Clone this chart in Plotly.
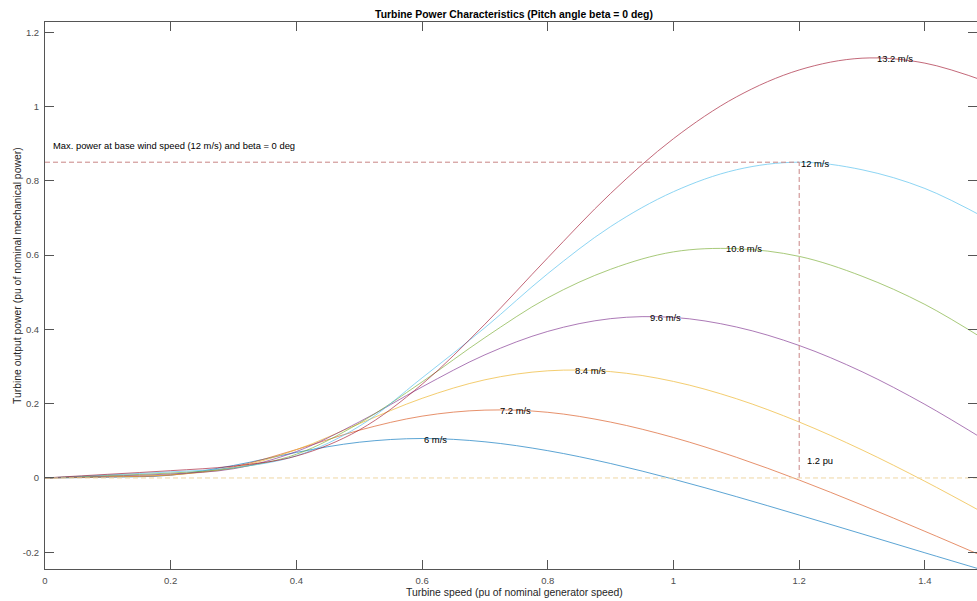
import plotly.graph_objects as go

# ---- data ----
speed = [0.0, 0.1, 0.2, 0.3, 0.4, 0.5, 0.6, 0.7, 0.8, 0.9, 1.0, 1.1, 1.2, 1.3, 1.4, 1.5]

p_6_0 = [0, 0.0021, 0.0075, 0.0337, 0.0688, 0.0963, 0.1063, 0.0974, 0.0735, 0.0389, -0.0033, -0.0502, -0.0998, -0.1505, -0.2014, -0.2517]
p_7_2 = [0, 0.0029, 0.0079, 0.0300, 0.0766, 0.1285, 0.1665, 0.1827, 0.1768, 0.1504, 0.1089, 0.0558, -0.0056, -0.0729, -0.1436, -0.2161]
p_8_4 = [0, 0.0040, 0.0087, 0.0270, 0.0761, 0.1461, 0.2144, 0.2643, 0.2885, 0.2863, 0.2599, 0.2134, 0.1506, 0.0755, -0.0089, -0.1000]
p_9_6 = [0, 0.0052, 0.0110, 0.0249, 0.0712, 0.1509, 0.2451, 0.3316, 0.3946, 0.4289, 0.4323, 0.4065, 0.3566, 0.2860, 0.1981, 0.0973]
p_10_8 = [0, 0.0066, 0.0133, 0.0265, 0.0639, 0.1474, 0.2586, 0.3779, 0.4850, 0.5618, 0.6087, 0.6172, 0.5965, 0.5431, 0.4671, 0.3674]
p_12_0 = [0, 0.0082, 0.0164, 0.0276, 0.0597, 0.1391, 0.2695, 0.4046, 0.5501, 0.6768, 0.7706, 0.8296, 0.8500, 0.8297, 0.7793, 0.6965]
p_13_2 = [0, 0.0099, 0.0197, 0.0319, 0.0591, 0.1291, 0.2524, 0.4141, 0.5928, 0.7660, 0.9134, 1.0257, 1.0983, 1.1300, 1.1167, 1.0655]

wind_labels = ["6 m/s", "7.2 m/s", "8.4 m/s", "9.6 m/s", "10.8 m/s", "12 m/s", "13.2 m/s"]
peak_speed = [0.6, 0.72, 0.84, 0.96, 1.08, 1.2, 1.32]
peak_power = [0.106, 0.184, 0.292, 0.435, 0.62, 0.85, 1.131]

base_speed = 1.2
base_power = 0.85
zero_line_x = [0.0, 1.5]

x_tickvals = [0, 0.2, 0.4, 0.6, 0.8, 1.0, 1.2, 1.4]
x_ticktext = ["0", "0.2", "0.4", "0.6", "0.8", "1", "1.2", "1.4"]
y_tickvals = [-0.2, 0, 0.2, 0.4, 0.6, 0.8, 1.0, 1.2]
y_ticktext = ["-0.2", "0", "0.2", "0.4", "0.6", "0.8", "1", "1.2"]

series = [p_6_0, p_7_2, p_8_4, p_9_6, p_10_8, p_12_0, p_13_2]
colors = ["#0072BD", "#D95319", "#EDB120", "#7E2F8E", "#77AC30", "#4DBEEE", "#A2142F"]

FONT = "Liberation Sans, Arial, Helvetica, sans-serif"
AXC = "#555555"

fig = go.Figure()

for ys, c, name in zip(series, colors, wind_labels):
    fig.add_trace(go.Scatter(x=speed, y=ys, mode="lines", name=name, opacity=0.8,
                             line=dict(color=c, width=0.8, shape="spline"),
                             hoverinfo="skip"))

# reference dashed lines
fig.add_trace(go.Scatter(x=[0, base_speed], y=[base_power, base_power], mode="lines",
                         line=dict(color="#c98585", width=1, dash="5px,3px"), hoverinfo="skip"))
fig.add_trace(go.Scatter(x=[base_speed, base_speed], y=[0, base_power], mode="lines",
                         line=dict(color="#c98585", width=1, dash="5px,3px"), hoverinfo="skip"))
fig.add_trace(go.Scatter(x=zero_line_x, y=[0, 0], mode="lines",
                         line=dict(color="#efd6a3", width=1, dash="5px,3px"), hoverinfo="skip"))

annotations = []
for lx, ly, txt in zip(peak_speed, peak_power, wind_labels):
    annotations.append(dict(x=lx, y=ly, xref="x", yref="y", text=txt, showarrow=False,
                            xanchor="left", yanchor="middle", yshift=-1,
                            font=dict(family=FONT, size=9.4, color="#000000")))

annotations.append(dict(x=0.01, y=0.894, xref="x", yref="y",
                        text="Max. power at base wind speed (12 m/s) and beta = 0 deg",
                        showarrow=False, xanchor="left", yanchor="middle",
                        font=dict(family=FONT, size=9.4, color="#000000")))
annotations.append(dict(x=1.21, y=0.048, xref="x", yref="y", text="1.2 pu",
                        showarrow=False, xanchor="left", yanchor="middle",
                        font=dict(family=FONT, size=9.4, color="#000000")))
# axis titles
annotations.append(dict(x=(514 - 45) / 932, y=(569 - 592) / 547, xref="paper", yref="paper",
                        text="Turbine speed (pu of nominal generator speed)", showarrow=False,
                        xanchor="center", yanchor="middle",
                        font=dict(family=FONT, size=10.4, color="#262626")))
annotations.append(dict(x=(17 - 45) / 932, y=(569 - 276) / 547, xref="paper", yref="paper",
                        text="Turbine output power (pu of nominal mechanical power)", showarrow=False,
                        textangle=-90, xanchor="center", yanchor="middle",
                        font=dict(family=FONT, size=10.4, color="#262626")))

fig.update_layout(
    width=977, height=601,
    margin=dict(l=45, r=0, t=22, b=32, autoexpand=False),
    paper_bgcolor="white", plot_bgcolor="white",
    showlegend=False,
    title=dict(text="<b>Turbine Power Characteristics (Pitch angle beta = 0 deg)</b>",
               x=(514 - 45) / 932, xref="paper", y=1 - 14 / 601, yref="container",
               xanchor="center", yanchor="middle",
               font=dict(family=FONT, size=10.4, color="#000000")),
    annotations=annotations,
    font=dict(family=FONT, size=9.5, color="#262626"),
)

fig.update_xaxes(range=[0, 1.4829], tickvals=x_tickvals, ticktext=x_ticktext,
                 ticks="inside", ticklen=9, tickcolor=AXC, tickwidth=1,
                 showline=True, linecolor=AXC, linewidth=1, mirror="ticks",
                 showgrid=False, zeroline=False, automargin=False, ticklabelstandoff=3,
                 tickfont=dict(family=FONT, size=9.5, color="#4d4d4d"))
fig.update_yaxes(range=[-0.245, 1.2274], tickvals=y_tickvals, ticktext=y_ticktext,
                 ticks="inside", ticklen=9, tickcolor=AXC, tickwidth=1,
                 showline=True, linecolor=AXC, linewidth=1, mirror="ticks",
                 showgrid=False, zeroline=False, automargin=False, ticklabelstandoff=3,
                 tickfont=dict(family=FONT, size=9.5, color="#4d4d4d"))

fig.write_html("out.html", config={"displayModeBar": False},
               post_script="document.body.style.margin='0px';document.body.style.overflow='hidden';")
